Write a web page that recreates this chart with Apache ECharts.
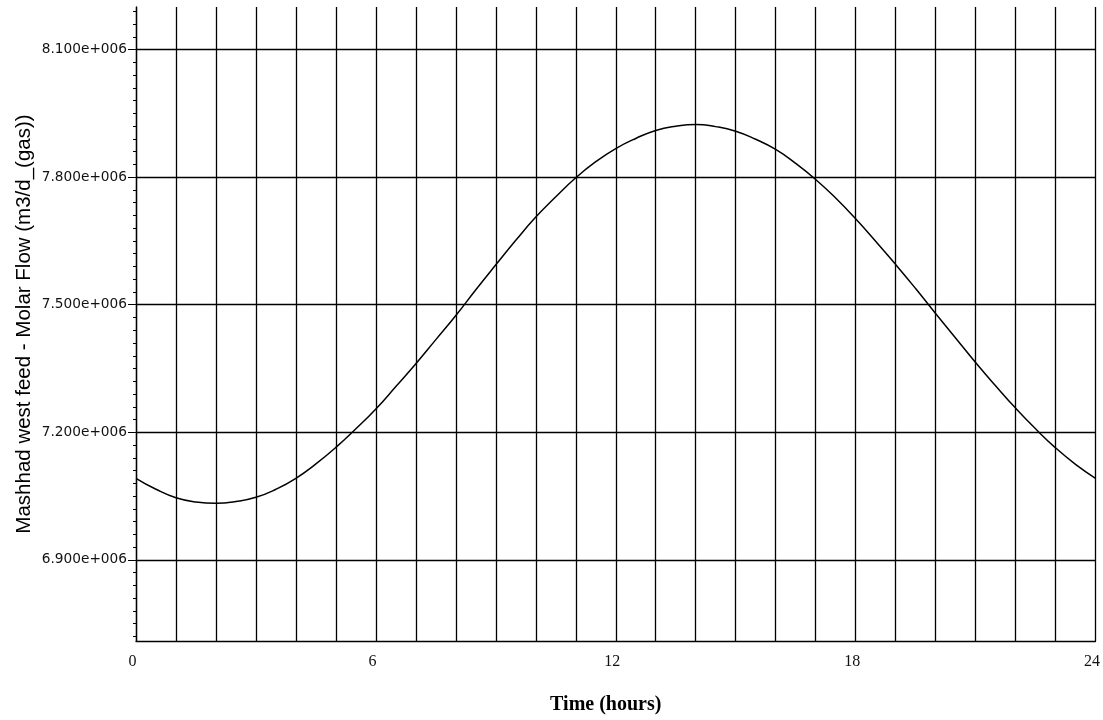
<!DOCTYPE html>
<html>
<head>
<meta charset="utf-8">
<script src="https://cdn.jsdelivr.net/npm/echarts@6/dist/echarts.min.js"></script>
<style>
  html, body { margin: 0; padding: 0; background: #ffffff; }
  #chart { width: 1103px; height: 720px; }
</style>
</head>
<body>
<div id="chart"></div>
<script>
// ---- data ----
const hours = [0, 0.5, 1, 1.5, 2, 2.5, 3, 3.5, 4, 4.5, 5, 5.5, 6, 6.5, 7, 7.5, 8, 8.5, 9, 9.5,
  10, 10.5, 11, 11.5, 12, 12.5, 13, 13.5, 14, 14.5, 15, 15.5, 16, 16.5, 17, 17.5, 18, 18.5,
  19, 19.5, 20, 20.5, 21, 21.5, 22, 22.5, 23, 23.5, 24];
const molarFlow = [7085000, 7059000, 7039000, 7029000, 7026000, 7030000, 7040000, 7059000,
  7085000, 7119000, 7158000, 7202000, 7249000, 7302000, 7356000, 7413000, 7470000, 7531000,
  7590000, 7648000, 7703000, 7751000, 7796000, 7834000, 7865000, 7889000, 7908000, 7918000,
  7922000, 7917000, 7906000, 7887000, 7863000, 7830000, 7792000, 7748000, 7699000, 7646000,
  7591000, 7534000, 7475000, 7417000, 7359000, 7304000, 7251000, 7202000, 7157000, 7118000,
  7085000];
const xTickLabels = [0, 6, 12, 18, 24];
const yTickValues = [6900000, 7200000, 7500000, 7800000, 8100000];
const yMin = 6700000, yMax = 8200000;
const yMajorStep = 300000, yMinorStep = 30000;
const yName = 'Mashhad west feed - Molar Flow (m3/d_(gas))';
const xName = 'Time (hours)';

// ---- layout ----
const plotLeft = 136, plotRight = 7, plotTop = 7, plotBottom = 75;
const plotH = 720 - plotTop - plotBottom;
const pxPerUnit = plotH / (yMax - yMin);
const minorMin = 6720000, minorMax = 8190000;
const majorMin = yTickValues[0], majorMax = yTickValues[yTickValues.length - 1];
const lineW = 1.3;

const chart = echarts.init(document.getElementById('chart'), null, { renderer: 'canvas' });

const hiddenX = (gi) => ({ gridIndex: gi, type: 'value', min: 0, max: 24, show: false });

const option = {
  backgroundColor: '#ffffff',
  animation: false,
  grid: [
    { left: plotLeft, right: plotRight, top: plotTop, bottom: plotBottom, containLabel: false },
    { left: plotLeft, right: plotRight,
      top: plotTop + (yMax - minorMax) * pxPerUnit,
      bottom: plotBottom + (minorMin - yMin) * pxPerUnit, containLabel: false },
    { left: plotLeft, right: plotRight,
      top: plotTop + (yMax - majorMax) * pxPerUnit,
      bottom: plotBottom + (majorMin - yMin) * pxPerUnit, containLabel: false }
  ],
  xAxis: [
    {
      gridIndex: 0, type: 'value', min: 0, max: 24, interval: 1,
      axisLine: { show: true, onZero: false, lineStyle: { color: '#000', width: lineW } },
      axisTick: { show: false },
      axisLabel: {
        margin: 13,
        fontFamily: 'Liberation Serif', fontSize: 16, color: '#111',
        padding: [0, 7, 0, 0],
        formatter: (v) => (xTickLabels.indexOf(v) >= 0 ? String(v) : '')
      },
      splitLine: { show: true, lineStyle: { color: '#000', width: lineW } },
      name: xName, nameLocation: 'middle', nameGap: 54,
      nameTextStyle: { fontFamily: 'Liberation Serif', fontWeight: 'bold', fontSize: 20,
        color: '#000', padding: [0, 20, 0, 0] }
    },
    hiddenX(1),
    hiddenX(2)
  ],
  yAxis: [
    {
      gridIndex: 0, type: 'value', min: yMin, max: yMax,
      axisLine: { show: true, onZero: false, lineStyle: { color: '#000', width: lineW } },
      axisTick: { show: false }, axisLabel: { show: false }, splitLine: { show: false },
      name: yName, nameLocation: 'middle', nameGap: 101,
      nameTextStyle: { fontFamily: 'Liberation Sans', fontSize: 20.5, color: '#000' }
    },
    {
      gridIndex: 1, type: 'value', min: minorMin, max: minorMax, interval: yMinorStep,
      axisLine: { show: false },
      axisTick: { show: true, length: 3, lineStyle: { color: '#000', width: 1 } },
      axisLabel: { show: false }, splitLine: { show: false }
    },
    {
      gridIndex: 2, type: 'value', min: majorMin, max: majorMax, interval: yMajorStep,
      axisLine: { show: false },
      axisTick: { show: true, length: 8, lineStyle: { color: '#000', width: 1 } },
      axisLabel: {
        margin: 9, fontFamily: 'DejaVu Sans', fontSize: 13.7, color: '#111',
        formatter: (v) => (v / 1e6).toFixed(3) + 'e+006'
      },
      splitLine: { show: true, lineStyle: { color: '#000', width: lineW } }
    }
  ],
  series: [
    {
      type: 'line', xAxisIndex: 0, yAxisIndex: 0,
      data: hours.map((h, i) => [h, molarFlow[i]]),
      smooth: true, showSymbol: false, symbol: 'none',
      lineStyle: { color: '#000', width: 1.5 },
      z: 5
    }
  ]
};

chart.setOption(option);
</script>
</body>
</html>
